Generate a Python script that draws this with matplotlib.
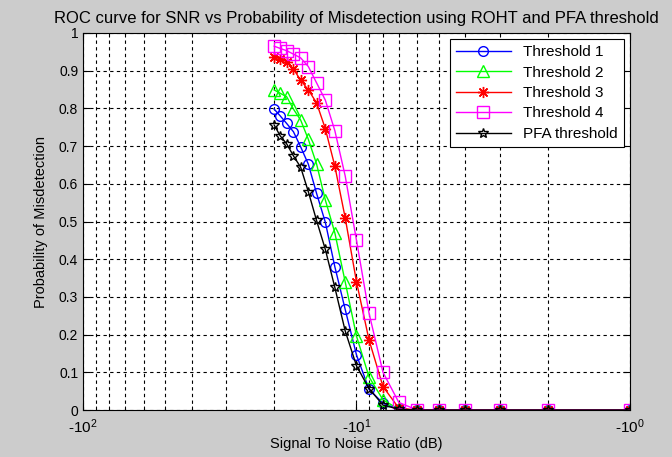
import numpy as np
import matplotlib.pyplot as plt

plt.rcParams['font.family'] = ['Liberation Sans', 'DejaVu Sans']
plt.rcParams['mathtext.fontset'] = 'custom'
plt.rcParams['mathtext.rm'] = 'Liberation Sans'
plt.rcParams['mathtext.it'] = 'Liberation Sans'

snr = [-20, -19, -18, -17, -16, -15, -14, -13, -12, -11,
       -10, -9, -8, -7, -6, -5, -4, -3, -2, -1]
th1 = [0.798, 0.780, 0.760, 0.738, 0.698, 0.652, 0.575, 0.498, 0.380, 0.267,
       0.146, 0.055, 0.018, 0.002, 0, 0, 0, 0, 0, 0]
th2 = [0.849, 0.840, 0.831, 0.798, 0.769, 0.718, 0.653, 0.557, 0.470, 0.340,
       0.196, 0.088, 0.027, 0.002, 0, 0, 0, 0, 0, 0]
th3 = [0.937, 0.931, 0.924, 0.904, 0.875, 0.849, 0.815, 0.746, 0.647, 0.510,
       0.340, 0.186, 0.062, 0.005, 0, 0, 0, 0, 0, 0]
th4 = [0.965, 0.959, 0.953, 0.944, 0.934, 0.911, 0.868, 0.822, 0.741, 0.621,
       0.450, 0.257, 0.100, 0.020, 0, 0, 0, 0, 0, 0]
pfa = [0.756, 0.727, 0.706, 0.674, 0.644, 0.579, 0.503, 0.426, 0.325, 0.210,
       0.117, 0.057, 0.013, 0.002, 0, 0, 0, 0, 0, 0]
names = ['Threshold 1', 'Threshold 2', 'Threshold 3', 'Threshold 4', 'PFA threshold']


def fwd(x):
    return -np.log10(np.maximum(-np.asarray(x, dtype=float), 1e-300))


def inv(y):
    return -10.0 ** (-np.asarray(y, dtype=float))


fig = plt.figure(figsize=(6.72, 4.57), dpi=100, facecolor='#cccccc')
ax = fig.add_axes([0.1235, 0.1028, 0.814, 0.825])
ax.set_xscale('function', functions=(fwd, inv))

ax.plot(snr, th1, color=(0, 0, 1), marker='o', mfc='none', ms=7, lw=1, label=names[0])
ax.plot(snr, th2, color=(0, 1, 0), marker='^', mfc='none', ms=8, lw=1, label=names[1])
ax.plot(snr, th3, color=(1, 0, 0), marker=(8, 2, 0), ms=8, lw=1, label=names[2])
ax.plot(snr, th4, color=(1, 0, 1), marker='s', mfc='none', ms=8, lw=1, label=names[3])
ax.plot(snr, pfa, color='k', marker='*', mfc='none', ms=7, lw=1, label=names[4])

ax.set_xlim(-100, -1)
ax.set_ylim(0, 1)
ax.set_xticks([-100, -10, -1])
ax.set_xticklabels([r'-10$^{2}$', r'-10$^{1}$', r'-10$^{0}$'])
minor = [-90, -80, -70, -60, -50, -40, -30, -20, -9, -8, -7, -6, -5, -4, -3, -2]
ax.set_xticks(minor, minor=True)
ax.set_xticklabels([], minor=True)
ax.set_yticks(np.arange(0, 1.01, 0.1))
ax.set_yticklabels(['0', '0.1', '0.2', '0.3', '0.4', '0.5', '0.6', '0.7', '0.8', '0.9', '1'])
ax.tick_params(which='both', direction='in', top=True, right=True, labelsize=10)
ax.tick_params(axis='x', which='major', labelsize=11, pad=5)
ax.tick_params(which='major', length=5)
ax.tick_params(which='minor', length=3)
ax.grid(True, which='both', axis='x', color='k', linestyle=(0, (3, 3)), lw=0.8)
ax.grid(True, which='major', axis='y', color='k', linestyle=(0, (3, 3)), lw=0.8)

ax.set_title('ROC curve for SNR vs Probability of Misdetection using ROHT and PFA threshold',
             fontsize=12, pad=7)
ax.set_xlabel('Signal To Noise Ratio (dB)', fontsize=10.5, labelpad=1)
ax.set_ylabel('Probability of Misdetection', fontsize=10.5, labelpad=8)

leg = ax.legend(loc='upper right', fontsize=11, fancybox=False, framealpha=1,
                edgecolor='k', borderaxespad=0.4, handlelength=3.6,
                labelspacing=0.42)
leg.get_frame().set_linewidth(0.8)

fig.savefig('out.png', dpi=100, facecolor=fig.get_facecolor())
